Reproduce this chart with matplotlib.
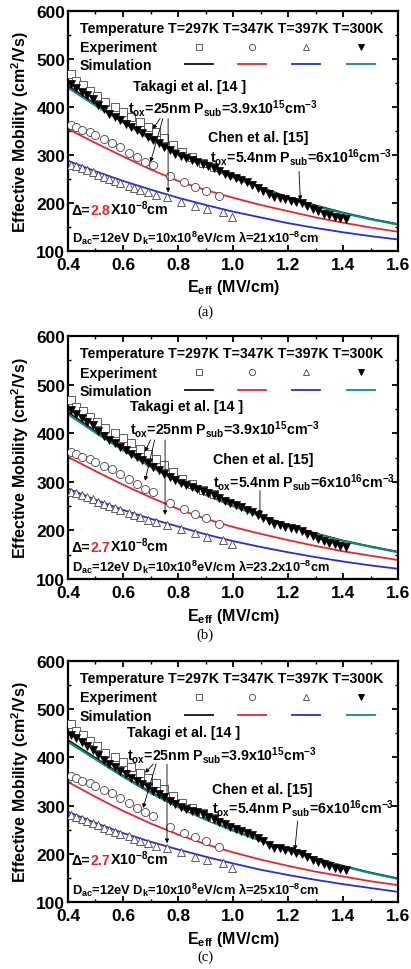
import matplotlib
matplotlib.use("Agg")
import matplotlib.pyplot as plt
from matplotlib.ticker import MultipleLocator

plt.rcParams['font.family'] = ['Liberation Sans', 'DejaVu Sans']
plt.rcParams['font.weight'] = 'bold'
plt.rcParams['mathtext.default'] = 'regular'

# ---------------- data ----------------
# Experiment, T=297K (Takagi) squares
E_sq = [0.41, 0.43, 0.455, 0.48, 0.505, 0.535, 0.57, 0.60, 0.63, 0.66, 0.69, 0.72,
        0.75, 0.78, 0.815, 0.85, 0.89, 0.93]
mu_sq = [469, 454, 446, 434, 423, 410, 400, 390, 380, 368, 358, 347,
         335, 320, 306, 296, 284, 274]
# Experiment, T=347K circles
E_ci = [0.41, 0.43, 0.45, 0.48, 0.50, 0.53, 0.56, 0.59, 0.62, 0.65, 0.68, 0.71,
        0.77, 0.82, 0.86, 0.90, 0.95]
mu_ci = [362, 358, 352, 347, 341, 333, 326, 316, 305, 296, 286, 279,
         256, 244, 234, 226, 214]
# Experiment, T=397K open triangles
E_tr = [0.41, 0.43, 0.45, 0.47, 0.49, 0.51, 0.53, 0.55, 0.57, 0.59, 0.62, 0.64,
        0.66, 0.69, 0.72, 0.76, 0.81, 0.86, 0.905, 0.965, 0.995]
mu_tr = [280, 277, 273, 268, 264, 259, 254, 250, 246, 242, 236, 231,
         227, 222, 217, 212, 203, 194, 187, 181, 171]
# Experiment, T=300K (Chen) filled down-triangles
E_dt = [0.41, 0.43, 0.45, 0.47, 0.49, 0.51, 0.53, 0.55, 0.57, 0.59, 0.61, 0.63,
        0.65, 0.67, 0.69, 0.71, 0.73, 0.75, 0.77, 0.79, 0.81, 0.83, 0.85, 0.87,
        0.89, 0.91, 0.93, 0.95, 0.97, 0.99, 1.01, 1.03, 1.05, 1.07, 1.09, 1.11,
        1.13, 1.15, 1.17, 1.19, 1.21, 1.23, 1.25, 1.27, 1.29, 1.31, 1.33, 1.35,
        1.37, 1.39, 1.41]
mu_dt = [447, 440, 432, 424, 416, 405, 395, 386, 380, 372, 365, 358,
         352, 345, 338, 331, 324, 317, 310, 303, 297, 293, 289, 286,
         282, 277, 272, 266, 261, 256, 252, 248, 243, 238, 232, 226,
         219, 213, 211, 208, 205, 202, 199, 193, 188, 183, 178, 174,
         171, 168, 166]

# Simulation curves (E grid and values per panel)
E_sim = [0.4, 0.5, 0.6, 0.7, 0.8, 0.9, 1.0, 1.1, 1.2, 1.3, 1.4, 1.5, 1.6]
sim_black = {
    'a': [444, 406, 370, 335, 304, 277, 254, 233, 212, 195, 180, 167, 156],
    'b': [443, 404, 367, 333, 302, 275, 251, 230, 211, 194, 179, 167, 156],
    'c': [436, 399, 362, 328, 299, 273, 249, 228, 208, 191, 175, 161, 149],
}
sim_red = {
    'a': [354, 325, 297, 270, 246, 227, 211, 196, 183, 170, 159, 149, 140],
    'b': [351, 322, 294, 268, 244, 224, 207, 193, 180, 168, 157, 148, 139],
    'c': [349, 318, 289, 263, 240, 220, 203, 188, 175, 163, 153, 143, 135],
}
sim_blue = {
    'a': [288, 266, 246, 228, 211, 196, 182, 170, 158, 148, 139, 131, 124],
    'b': [286, 263, 242, 224, 208, 192, 178, 166, 155, 145, 136, 128, 121],
    'c': [287, 264, 243, 225, 209, 194, 180, 167, 156, 146, 137, 129, 121],
}
sim_teal = {
    'a': [440, 403, 368, 333, 302, 276, 253, 232, 210, 193, 179, 166, 155],
    'b': [439, 401, 365, 331, 300, 273, 250, 229, 210, 193, 178, 166, 155],
    'c': [432, 396, 360, 326, 297, 271, 248, 227, 207, 190, 174, 160, 148],
}
delta_vals = {'a': '2.8', 'b': '2.7', 'c': '2.7'}
lambda_vals = {'a': '21', 'b': '23.2', 'c': '25'}
captions = {'a': '(a)', 'b': '(b)', 'c': '(c)'}
temps = ['T=297K', 'T=347K', 'T=397K', 'T=300K']

C_BLACK = '#111111'
C_RED = '#e8262b'
C_BLUE = '#2a2ae0'
C_TEAL = '#138a80'

W, H = 411, 970
fig = plt.figure(figsize=(W / 100, H / 100), dpi=100)

panels = {
    'a': (12, 252),
    'b': (337, 580),
    'c': (662, 903),
}
cap_y = {'a': 312, 'b': 635, 'c': 957}
x0, x1 = 68, 398

# text positions per panel (data coords)
txt_pos = {
    'a': dict(tak=(0.636, 444), tox1=(0.618, 400), chen=(0.91, 337), tox2=(0.916, 296),
              dlt=(0.414, 183), dac=(0.414, 129),
              arr_tak=[((0.735, 376), (0.708, 354)), ((0.745, 376), (0.70, 285)),
                       ((0.764, 376), (0.764, 222))],
              arr_chen=((1.24, 266), (1.245, 206))),
    'b': dict(tak=(0.625, 455), tox1=(0.625, 409), chen=(0.927, 347), tox2=(0.927, 300),
              dlt=(0.414, 163), dac=(0.414, 125),
              arr_tak=[((0.70, 386), (0.68, 362)), ((0.715, 386), (0.68, 302)),
                       ((0.753, 386), (0.753, 232))],
              arr_chen=((1.098, 282), (1.098, 232))),
    'c': dict(tak=(0.614, 453), tox1=(0.614, 407), chen=(0.923, 334), tox2=(0.923, 297),
              dlt=(0.414, 185), dac=(0.414, 127),
              arr_tak=[((0.71, 386), (0.68, 368)), ((0.72, 386), (0.673, 295)),
                       ((0.76, 386), (0.76, 222))],
              arr_chen=((1.235, 268), (1.225, 208))),
}

FS = 10.2
axes = {}
for key, (top, bot) in panels.items():
    ax = fig.add_axes([x0 / W, 1 - bot / H, (x1 - x0) / W, (bot - top) / H])
    axes[key] = ax
    ax.set_xlim(0.4, 1.6)
    ax.set_ylim(100, 600)
    ax.xaxis.set_major_locator(MultipleLocator(0.2))
    ax.xaxis.set_minor_locator(MultipleLocator(0.1))
    ax.yaxis.set_major_locator(MultipleLocator(100))
    ax.yaxis.set_minor_locator(MultipleLocator(50))
    ax.xaxis.set_major_formatter(plt.FuncFormatter(lambda v, p: f'{v:.1f}'))
    ax.tick_params(which='both', direction='in', top=True, right=True)
    ax.tick_params(which='major', length=4.5, width=1.3, labelsize=12.5)
    ax.tick_params(axis='x', which='major', pad=4.5)
    ax.tick_params(axis='y', which='major', pad=2)
    ax.tick_params(which='minor', length=2.5, width=1.0)
    for lab in ax.get_xticklabels() + ax.get_yticklabels():
        lab.set_fontweight('bold')
    for s in ax.spines.values():
        s.set_linewidth(1.6)

    # simulation lines
    ax.plot(E_sim, sim_black[key], color=C_BLACK, lw=1.3, zorder=2)
    ax.plot(E_sim, sim_red[key], color=C_RED, lw=1.3, zorder=2)
    ax.plot(E_sim, sim_blue[key], color=C_BLUE, lw=1.3, zorder=2)
    ax.plot(E_sim, sim_teal[key], color=C_TEAL, lw=1.5, zorder=2)

    # experiment markers
    ms = 5.8
    ax.plot(E_sq, mu_sq, ls='none', marker='s', ms=ms, mfc='white', mec='#444444', mew=0.6, zorder=3)
    ax.plot(E_ci, mu_ci, ls='none', marker='o', ms=ms, mfc='white', mec='#444444', mew=0.6, zorder=3)
    ax.plot(E_tr, mu_tr, ls='none', marker='^', ms=ms, mfc='white', mec='#444444', mew=0.6, zorder=3)
    ax.plot(E_dt, mu_dt, ls='none', marker='v', ms=5.3, mfc='black', mec='black', mew=0.5, zorder=4)

    # legend-like header
    ax.text(0.036, 0.912, 'Temperature ' + ' '.join(temps), transform=ax.transAxes,
            fontsize=FS, fontweight='bold', va='baseline', ha='left')
    ax.text(0.036, 0.833, 'Experiment', transform=ax.transAxes,
            fontsize=FS, fontweight='bold', va='baseline', ha='left')
    ax.text(0.036, 0.757, 'Simulation', transform=ax.transAxes,
            fontsize=FS, fontweight='bold', va='baseline', ha='left')
    key_x = [0.397, 0.558, 0.721, 0.888]
    key_m = [('s', 'white', '#444444'), ('o', 'white', '#444444'),
             ('^', 'white', '#444444'), ('v', 'black', 'black')]
    key_c = [C_BLACK, C_RED, C_BLUE, C_TEAL]
    for kx, (m, fc, ec), lc in zip(key_x, key_m, key_c):
        ax.plot([kx], [0.852], transform=ax.transAxes, ls='none', marker=m, ms=4.5,
                mfc=fc, mec=ec, mew=0.6, clip_on=False)
        ax.plot([kx - 0.042, kx + 0.042], [0.778, 0.778], transform=ax.transAxes,
                color=lc, lw=1.3)

    p = txt_pos[key]
    ax.text(*p['tak'], 'Takagi et al. [14 ]', fontsize=FS, fontweight='bold', va='center')
    ax.text(*p['tox1'], r't$_{ox}$=25nm P$_{sub}$=3.9x10$^{15}$cm$^{-3}$',
            fontsize=FS, fontweight='bold', va='center')
    ax.text(*p['chen'], 'Chen et al. [15]', fontsize=FS, fontweight='bold', va='center')
    ax.text(*p['tox2'], r't$_{ox}$=5.4nm P$_{sub}$=6x10$^{16}$cm$^{-3}$',
            fontsize=FS, fontweight='bold', va='center')
    ax.text(*p['dac'], r'D$_{ac}$=12eV D$_{k}$=10x10$^{8}$eV/cm λ=' + lambda_vals[key] + r'x10$^{-8}$cm',
            fontsize=9.3, fontweight='bold', va='center')

    aprops = dict(arrowstyle='-|>', lw=0.6, color='black', mutation_scale=6, shrinkA=0, shrinkB=0)
    for (s, e) in p['arr_tak']:
        ax.annotate('', xy=e, xytext=s, arrowprops=aprops)
    s, e = p['arr_chen']
    ax.annotate('', xy=e, xytext=s, arrowprops=aprops)

    ax.set_xlabel(r'E$_{eff}$ (MV/cm)', fontsize=11.5, fontweight='bold', labelpad=1)
    ax.set_ylabel(r'Effective Mobility (cm$^{2}$/Vs)', fontsize=11.5, fontweight='bold', labelpad=2)
    ax.yaxis.set_label_coords(-0.112, 0.5)
    ax.xaxis.set_label_coords(0.5, -0.11)

    fig.text(205 / W, 1 - cap_y[key] / H, captions[key],
             fontsize=10.5, family='Liberation Serif', fontweight='normal', ha='center', va='center')

# Delta text with colored value
fig.canvas.draw()
r = fig.canvas.get_renderer()
for key, ax in axes.items():
    p = txt_pos[key]['dlt']
    y_b = p[1] - 6
    t1 = ax.text(p[0], y_b, 'Δ=', fontsize=FS, fontweight='bold', va='baseline')
    bb = t1.get_window_extent(r)
    xd = ax.transData.inverted().transform((bb.x1, bb.y0))[0]
    t2 = ax.text(xd, y_b, delta_vals[key], fontsize=FS, fontweight='bold',
                 color=C_RED, va='baseline')
    bb2 = t2.get_window_extent(r)
    xd2 = ax.transData.inverted().transform((bb2.x1, bb2.y0))[0]
    ax.text(xd2, y_b, r'X10$^{-8}$cm', fontsize=FS, fontweight='bold', va='baseline')

fig.savefig('out.png', dpi=100)
